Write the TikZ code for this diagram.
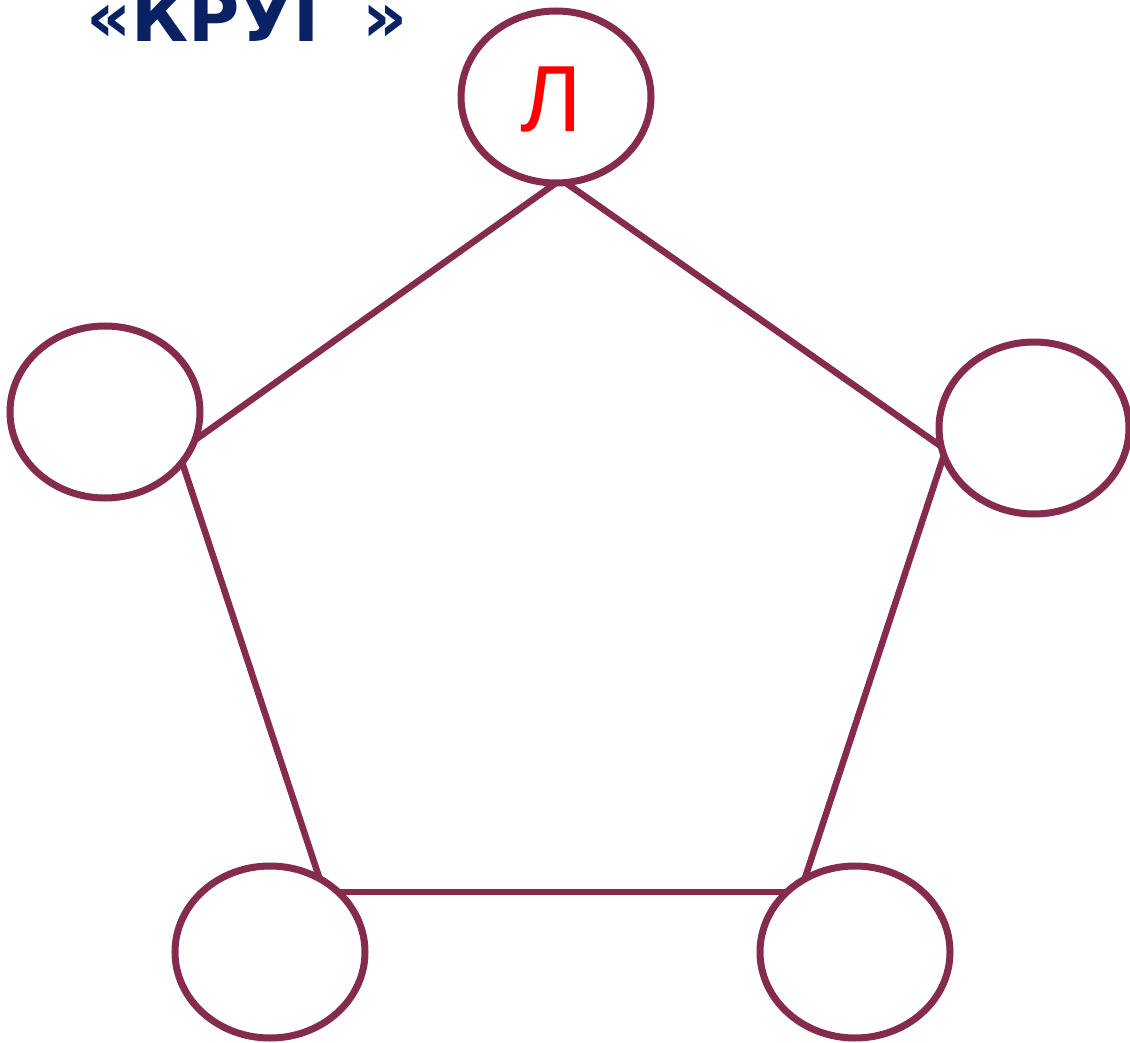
\documentclass[tikz,border=0pt]{standalone}
\usepackage{fontspec}
\setmainfont{DejaVu Sans}
\newfontfamily\lettfont{Liberation Sans}
\usetikzlibrary{shapes.geometric}
\definecolor{edgecol}{HTML}{842B4E}
\definecolor{titlecol}{HTML}{0A2263}
\definecolor{lettcol}{HTML}{FF0000}
\tikzset{
  vert/.style={draw=edgecol, line width=7pt, ellipse, minimum width=190pt, minimum height=172pt, inner sep=0pt, fill=white},
  edgeline/.style={draw=edgecol, line width=6.5pt},
}
\begin{document}
\begin{tikzpicture}[x=1pt,y=-1pt]
\useasboundingbox (0,0) rectangle (1130,1043);
\clip (0,0) rectangle (1130,1043);
\fill[white] (0,0) rectangle (1130,1043);
\node[anchor=base west, text=titlecol, inner sep=0pt, font=\fontsize{70}{80}\selectfont\bfseries] (title) at (86,42) {«КРУГ »};
% connector end points
\coordinate (a1) at (556,183);
\coordinate (a2) at (566,183);
\coordinate (b1) at (195,440);
\coordinate (b2) at (182,462);
\coordinate (c1) at (942,447);
\coordinate (c2) at (944,455);
\coordinate (d1) at (320,880);
\coordinate (d2) at (340,892);
\coordinate (e1) at (805,878);
\coordinate (e2) at (785,892);
\draw[edgeline] (a1) -- (b1);
\draw[edgeline] (a2) -- (c1);
\draw[edgeline] (b2) -- (d1);
\draw[edgeline] (c2) -- (e1);
\draw[edgeline] (d2) -- (e2);
\node[vert] (top) at (556,97) {};
\node[vert] (left) at (105,412) {};
\node[vert] (right) at (1034,428) {};
\node[vert] (bl) at (270,952) {};
\node[vert] (br) at (855,952) {};
\node[text=lettcol, font=\lettfont\fontsize{94}{100}\selectfont, inner sep=0pt, anchor=base] (lett) at (551,132) {Л};
\end{tikzpicture}
\end{document}
